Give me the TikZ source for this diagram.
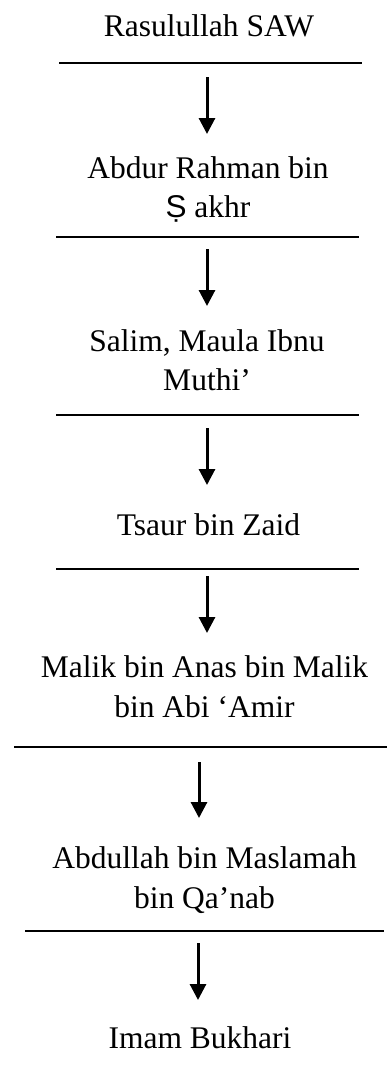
\documentclass[tikz,border=0pt]{standalone}
\usepackage{fontspec}
\setmainfont{Liberation Serif}
\newfontfamily\dotfont{Liberation Sans}
\usetikzlibrary{arrows.meta}
\begin{document}
\begin{tikzpicture}[x=1pt,y=1pt,
  narrator/.style={font=\fontsize{31.5}{39}\selectfont, align=center, inner sep=0pt, anchor=base},
  rule/.style={line width=2.5pt},
  link/.style={line width=3pt, -{Triangle[width=16pt,length=16pt]}}]
\useasboundingbox (0,0) rectangle (387,-1071);

% chain of narrators, top to bottom (two-line names sit on their last baseline)
\node[narrator] (n1) at (209,-36)    {Rasulullah SAW};
\node[narrator] (n2) at (208,-217)   {Abdur Rahman bin\\{\dotfont Ṣ} akhr};
\node[narrator] (n3) at (207,-390)   {Salim, Maula Ibnu\\Muthi’};
\node[narrator] (n4) at (208.5,-535) {Tsaur bin Zaid};
\node[narrator, font=\fontsize{31.5}{40}\selectfont] (n5) at (204.5,-717) {Malik bin Anas bin Malik\\bin Abi ‘Amir};
\node[narrator, font=\fontsize{31.5}{40}\selectfont] (n6) at (204.5,-908) {Abdullah bin Maslamah\\bin Qa’nab};
\node[narrator] (n7) at (200,-1048)  {Imam Bukhari};

% separating rules
\draw[rule] (59,-63)  -- (362,-63);
\draw[rule] (56,-237) -- (359,-237);
\draw[rule] (56,-415) -- (359,-415);
\draw[rule] (56,-569) -- (359,-569);
\draw[rule] (14,-747) -- (387,-747);
\draw[rule] (25,-931) -- (384,-931);

% arrow end points
\coordinate (a1s) at (207,-77);  \coordinate (a1e) at (207,-134);
\coordinate (a2s) at (207,-249); \coordinate (a2e) at (207,-306);
\coordinate (a3s) at (207,-428); \coordinate (a3e) at (207,-485);
\coordinate (a4s) at (207,-576); \coordinate (a4e) at (207,-633);
\coordinate (a5s) at (199,-762); \coordinate (a5e) at (199,-818);
\coordinate (a6s) at (198,-943); \coordinate (a6e) at (198,-1000);

\draw[link] (a1s) -- (a1e);
\draw[link] (a2s) -- (a2e);
\draw[link] (a3s) -- (a3e);
\draw[link] (a4s) -- (a4e);
\draw[link] (a5s) -- (a5e);
\draw[link] (a6s) -- (a6e);
\end{tikzpicture}
\end{document}
